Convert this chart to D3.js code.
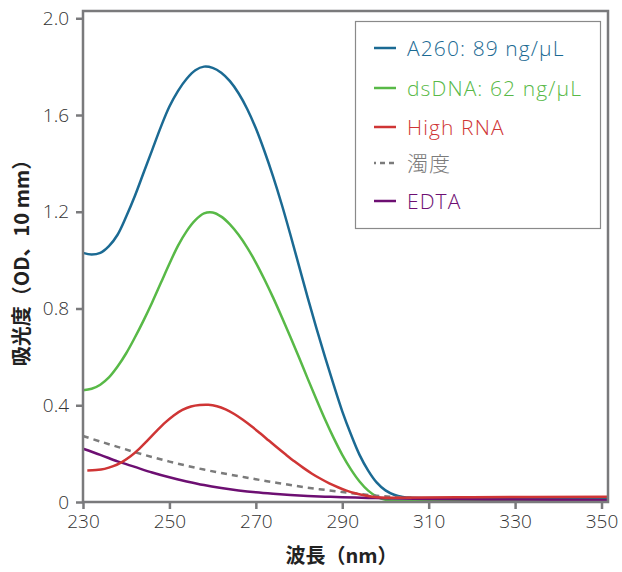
<!DOCTYPE html>
<html>
<head>
<meta charset="utf-8">
<script src="https://cdn.jsdelivr.net/npm/d3@7"></script>
<style>
  html, body { margin: 0; padding: 0; background: #fff; }
  svg text { font-family: "Open Sans", "Noto Sans CJK JP", sans-serif; }
</style>
</head>
<body>
<div id="chart"></div>
<script>
// values
const a260Nm = [230, 232, 234, 236, 238, 240, 242, 244, 246, 248, 250, 252, 254, 256, 258, 260, 262, 264, 266, 268, 270, 272, 274, 276, 278, 280, 282, 284, 286, 288, 290, 292, 294, 296, 298, 300, 302, 304, 306, 320, 351.5];
const a260Abs = [1.03, 1.023, 1.03, 1.058, 1.105, 1.18, 1.265, 1.36, 1.455, 1.55, 1.635, 1.7, 1.75, 1.785, 1.8, 1.795, 1.775, 1.74, 1.69, 1.625, 1.545, 1.45, 1.345, 1.23, 1.105, 0.975, 0.845, 0.72, 0.6, 0.485, 0.375, 0.28, 0.195, 0.13, 0.08, 0.048, 0.03, 0.021, 0.018, 0.017, 0.016];

const dsdnaNm = [230, 232, 234, 236, 238, 240, 242, 244, 246, 248, 250, 252, 254, 256, 258, 260, 262, 264, 266, 268, 270, 272, 274, 276, 278, 280, 282, 284, 286, 288, 290, 292, 294, 296, 298, 300, 302, 320, 351.5];
const dsdnaAbs = [0.462, 0.468, 0.485, 0.515, 0.56, 0.615, 0.68, 0.75, 0.825, 0.905, 0.985, 1.06, 1.12, 1.165, 1.193, 1.197, 1.18, 1.148, 1.105, 1.052, 0.99, 0.92, 0.845, 0.765, 0.682, 0.597, 0.51, 0.425, 0.342, 0.265, 0.195, 0.135, 0.085, 0.047, 0.022, 0.009, 0.006, 0.007, 0.008];

const rnaNm = [231, 233, 235, 237, 239, 241, 243, 245, 247, 249, 251, 253, 255, 257, 259, 261, 263, 265, 267, 269, 271, 273, 275, 277, 279, 281, 283, 285, 287, 289, 291, 293, 295, 297, 299, 302, 320, 351.5];
const rnaAbs = [0.13, 0.132, 0.137, 0.148, 0.165, 0.189, 0.22, 0.256, 0.293, 0.328, 0.358, 0.381, 0.395, 0.401, 0.402, 0.396, 0.383, 0.364, 0.34, 0.313, 0.284, 0.254, 0.224, 0.195, 0.167, 0.141, 0.117, 0.096, 0.077, 0.061, 0.047, 0.036, 0.028, 0.022, 0.019, 0.018, 0.02, 0.022];

const turbNm = [230, 234, 238, 242, 246, 250, 254, 258, 262, 266, 270, 274, 278, 282, 286, 290, 294, 298, 302, 306];
const turbAbs = [0.273, 0.25, 0.228, 0.206, 0.186, 0.167, 0.15, 0.134, 0.12, 0.107, 0.094, 0.082, 0.07, 0.059, 0.05, 0.041, 0.033, 0.026, 0.021, 0.018];

const edtaNm = [230, 234, 238, 242, 246, 250, 254, 258, 262, 266, 270, 274, 278, 282, 286, 290, 296, 300, 310, 330, 351.5];
const edtaAbs = [0.22, 0.195, 0.168, 0.145, 0.122, 0.102, 0.085, 0.07, 0.058, 0.048, 0.04, 0.034, 0.029, 0.025, 0.022, 0.02, 0.017, 0.015, 0.012, 0.01, 0.008];

const xTicks = [230, 250, 270, 290, 310, 330, 350];
const yTicks = [0, 0.4, 0.8, 1.2, 1.6, 2.0];
const yTickLabels = ["0", "0.4", "0.8", "1.2", "1.6", "2.0"];

const seriesNames = ["A260: 89 ng/μL", "dsDNA: 62 ng/μL", "High RNA", "濁度", "EDTA"];
const seriesColors = ["#1b6a93", "#58b947", "#cf3535", "#7b7b7b", "#6d0f72"];

const width = 622, height = 572;
const margin = { left: 83, right: 14, top: 11, bottom: 70 };

const series = [
  { nm: a260Nm, abs: a260Abs, i: 0 },
  { nm: dsdnaNm, abs: dsdnaAbs, i: 1 },
  { nm: edtaNm, abs: edtaAbs, i: 4 },
  { nm: turbNm, abs: turbAbs, i: 3 },
  { nm: rnaNm, abs: rnaAbs, i: 2 }
];

const x = d3.scaleLinear().domain([230, 351.5]).range([margin.left, width - margin.right]);
const y = d3.scaleLinear().domain([0, 2.03]).range([height - margin.bottom, margin.top]);

const svg = d3.select("#chart")
  .append("svg")
  .attr("width", width)
  .attr("height", height);

const line = d3.line()
  .x((d) => x(d[0]))
  .y((d) => y(d[1]))
  .curve(d3.curveCatmullRom.alpha(0.5));

svg.append("g")
  .selectAll("path")
  .data(series)
  .join("path")
  .attr("d", (s) => line(s.nm.map((n, k) => [n, s.abs[k]])))
  .attr("fill", "none")
  .attr("stroke", (s) => seriesColors[s.i])
  .attr("stroke-width", 2.5)
  .attr("stroke-dasharray", (s) => (s.i === 3 ? "6,5" : null));

// frame
svg.append("rect")
  .attr("x", margin.left)
  .attr("y", margin.top)
  .attr("width", width - margin.left - margin.right)
  .attr("height", height - margin.top - margin.bottom)
  .attr("fill", "none")
  .attr("stroke", "#7a7a7c")
  .attr("stroke-width", 2.5);

const xAxis = svg.append("g")
  .attr("transform", `translate(0,${height - margin.bottom})`)
  .call(d3.axisBottom(x).tickValues(xTicks).tickSize(7).tickPadding(6));

const yAxis = svg.append("g")
  .attr("transform", `translate(${margin.left},0)`)
  .call(d3.axisLeft(y).tickValues(yTicks).tickFormat((d, k) => yTickLabels[k]).tickSize(7).tickPadding(7));

[xAxis, yAxis].forEach((g) => {
  g.select(".domain").remove();
  g.selectAll(".tick line").attr("stroke", "#7a7a7c").attr("stroke-width", 2.5);
  g.selectAll(".tick text")
    .attr("fill", "#333")
    .attr("font-weight", 300)
    .style("font-size", "19px");
});

svg.append("text")
  .attr("x", (margin.left + width - margin.right) / 2 - 4)
  .attr("y", 563)
  .attr("text-anchor", "middle")
  .attr("font-weight", "bold")
  .attr("fill", "#222")
  .style("font-family", "'Noto Sans CJK JP', sans-serif")
  .style("font-size", "20px")
  .text("波長（nm）");

svg.append("text")
  .attr("transform", `translate(29,258) rotate(-90)`)
  .attr("text-anchor", "middle")
  .attr("font-weight", "bold")
  .attr("fill", "#222")
  .style("font-family", "'Noto Sans CJK JP', sans-serif")
  .style("font-size", "20px")
  .text("吸光度（OD、10 mm）");

// legend
const legend = svg.append("g");
legend.append("rect")
  .attr("x", 355.5)
  .attr("y", 21.5)
  .attr("width", 245)
  .attr("height", 207)
  .attr("fill", "#fff")
  .attr("stroke", "#8a8a8a")
  .attr("stroke-width", 1.2);

const rowY = [48, 88, 127, 163, 201];
const item = legend.selectAll("g.item")
  .data(seriesNames)
  .join("g")
  .attr("class", "item")
  .attr("transform", (d, k) => `translate(0,${rowY[k]})`);

item.append("line")
  .attr("x1", 374)
  .attr("x2", 396)
  .attr("stroke", (d, k) => seriesColors[k])
  .attr("stroke-width", 2.5)
  .attr("stroke-dasharray", (d, k) => (k === 3 ? "2,4,5,4,5" : null));

item.append("text")
  .attr("x", 407)
  .attr("dy", "0.36em")
  .attr("fill", (d, k) => seriesColors[k])
  .attr("font-weight", 300)
  .attr("letter-spacing", 1.1)
  .style("font-size", "21px")
  .text((d) => d);
</script>
</body>
</html>
